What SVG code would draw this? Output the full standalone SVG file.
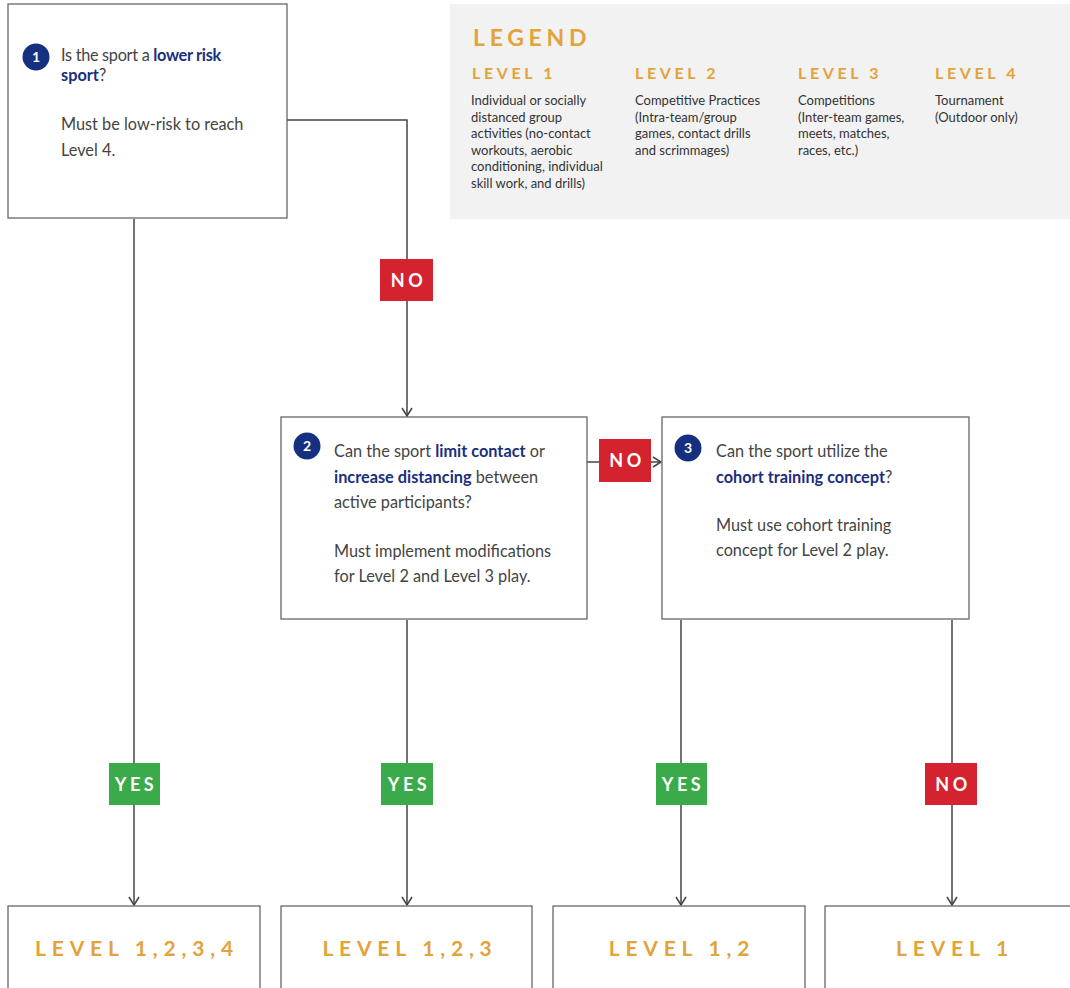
<svg xmlns="http://www.w3.org/2000/svg" width="1070" height="988" viewBox="0 0 1070 988">
<defs>
<style>
.box{fill:#fff;stroke:#5a5a5a;stroke-width:1.2}
.t{font-family:Lato,"Liberation Sans",sans-serif;font-size:16.3px;fill:#444}
.b{font-weight:bold;fill:#1a2f7c}
.num{font-family:Lato,"Liberation Sans",sans-serif;font-size:14px;font-weight:bold;fill:#fff;text-anchor:middle}
.circ{fill:#14307e}
.lvl{font-family:Lato,"Liberation Sans",sans-serif;font-size:21px;font-weight:bold;fill:#e1a33a;letter-spacing:5.8px;text-anchor:middle}
.lh{font-family:Lato,"Liberation Sans",sans-serif;font-size:16px;font-weight:bold;fill:#e1a33a;letter-spacing:3.6px}
.lg{font-family:Lato,"Liberation Sans",sans-serif;font-size:13px;fill:#333}
.tag{font-family:Lato,"Liberation Sans",sans-serif;font-size:18px;font-weight:bold;fill:#fff;letter-spacing:3.5px;text-anchor:middle}
.yes{fill:#3aaa4a}
.no{fill:#d4222e}
.ln{fill:none;stroke:#444;stroke-width:1.5}
</style>
<marker id="arr" viewBox="0 0 12 12" refX="11" refY="6" markerWidth="12" markerHeight="12" markerUnits="userSpaceOnUse" orient="auto">
<path d="M3,1 L11,6 L3,11" fill="none" stroke="#444" stroke-width="1.5"/>
</marker>
</defs>

<g id="legend">
<rect x="450" y="4" width="625" height="215" fill="#f2f2f2"/>
<text x="473" y="46" font-family="Lato,'Liberation Sans',sans-serif" font-size="23" font-weight="bold" fill="#e1a33a" letter-spacing="4.7">LEGEND</text>
<text class="lh" x="472" y="79">LEVEL 1</text>
<text class="lh" x="635" y="79">LEVEL 2</text>
<text class="lh" x="798" y="79">LEVEL 3</text>
<text class="lh" x="935" y="79">LEVEL 4</text>
<text class="lg"><tspan x="471" y="105">Individual or socially</tspan><tspan x="471" y="121.5">distanced group</tspan><tspan x="471" y="138">activities (no-contact</tspan><tspan x="471" y="154.5">workouts, aerobic</tspan><tspan x="471" y="171">conditioning, individual</tspan><tspan x="471" y="187.5">skill work, and drills)</tspan></text>
<text class="lg"><tspan x="635" y="105">Competitive Practices</tspan><tspan x="635" y="121.5">(Intra-team/group</tspan><tspan x="635" y="138">games, contact drills</tspan><tspan x="635" y="154.5">and scrimmages)</tspan></text>
<text class="lg"><tspan x="798" y="105">Competitions</tspan><tspan x="798" y="121.5">(Inter-team games,</tspan><tspan x="798" y="138">meets, matches,</tspan><tspan x="798" y="154.5">races, etc.)</tspan></text>
<text class="lg"><tspan x="935" y="105">Tournament</tspan><tspan x="935" y="121.5">(Outdoor only)</tspan></text>
</g>

<g id="connectors">
<path class="ln" d="M287,120 H407 V416" marker-end="url(#arr)"/>
<path class="ln" d="M587,462 H661" marker-end="url(#arr)"/>
<path class="ln" d="M134,219 V905" marker-end="url(#arr)"/>
<path class="ln" d="M407,620 V905" marker-end="url(#arr)"/>
<path class="ln" d="M681,620 V905" marker-end="url(#arr)"/>
<path class="ln" d="M952,620 V905" marker-end="url(#arr)"/>
<rect class="no" x="380" y="259" width="53" height="42"/>
<text class="tag" x="408.5" y="287">NO</text>
<rect class="no" x="599" y="439" width="52" height="43"/>
<text class="tag" x="627" y="467">NO</text>
<rect class="yes" x="109" y="763" width="51" height="42"/>
<text class="tag" x="136" y="791">YES</text>
<rect class="yes" x="381" y="763" width="52" height="42"/>
<text class="tag" x="409" y="791">YES</text>
<rect class="yes" x="656" y="763" width="51" height="42"/>
<text class="tag" x="683" y="791">YES</text>
<rect class="no" x="925" y="763" width="52" height="42"/>
<text class="tag" x="953" y="791">NO</text>
</g>

<g id="q1">
<rect class="box" x="8" y="4" width="279" height="214"/>
<circle class="circ" cx="36" cy="57" r="13.5"/>
<text class="num" x="36" y="62">1</text>
<text class="t" x="61" y="61" letter-spacing="-0.3">Is the sport a <tspan class="b">lower risk</tspan></text>
<text class="t" x="61" y="81"><tspan class="b">sport</tspan>?</text>
<text class="t" x="61" y="130">Must be low-risk to reach</text>
<text class="t" x="61" y="156">Level 4.</text>
</g>

<g id="q2">
<rect class="box" x="281" y="417" width="306" height="202"/>
<circle class="circ" cx="307" cy="446" r="13.5"/>
<text class="num" x="307" y="451">2</text>
<text class="t" x="334" y="457">Can the sport <tspan class="b">limit contact</tspan> or</text>
<text class="t" x="334" y="483"><tspan class="b">increase distancing</tspan> between</text>
<text class="t" x="334" y="508">active participants?</text>
<text class="t" x="334" y="557">Must implement modifications</text>
<text class="t" x="334" y="582">for Level 2 and Level 3 play.</text>
</g>

<g id="q3">
<rect class="box" x="662" y="417" width="307" height="202"/>
<circle class="circ" cx="688" cy="448" r="13.5"/>
<text class="num" x="688" y="453">3</text>
<text class="t" x="716" y="457">Can the sport utilize the</text>
<text class="t" x="716" y="483"><tspan class="b">cohort training concept</tspan>?</text>
<text class="t" x="716" y="531">Must use cohort training</text>
<text class="t" x="716" y="556">concept for Level 2 play.</text>
</g>

<g id="r1">
<rect class="box" x="8" y="906" width="252" height="90"/>
<text class="lvl" x="137" y="956">LEVEL 1,2,3,4</text>
</g>
<g id="r2">
<rect class="box" x="281" y="906" width="251" height="90"/>
<text class="lvl" x="410" y="956">LEVEL 1,2,3</text>
</g>
<g id="r3">
<rect class="box" x="553" y="906" width="252" height="90"/>
<text class="lvl" x="682" y="956">LEVEL 1,2</text>
</g>
<g id="r4">
<rect class="box" x="825" y="906" width="260" height="90"/>
<text class="lvl" x="955" y="956">LEVEL 1</text>
</g>
</svg>
